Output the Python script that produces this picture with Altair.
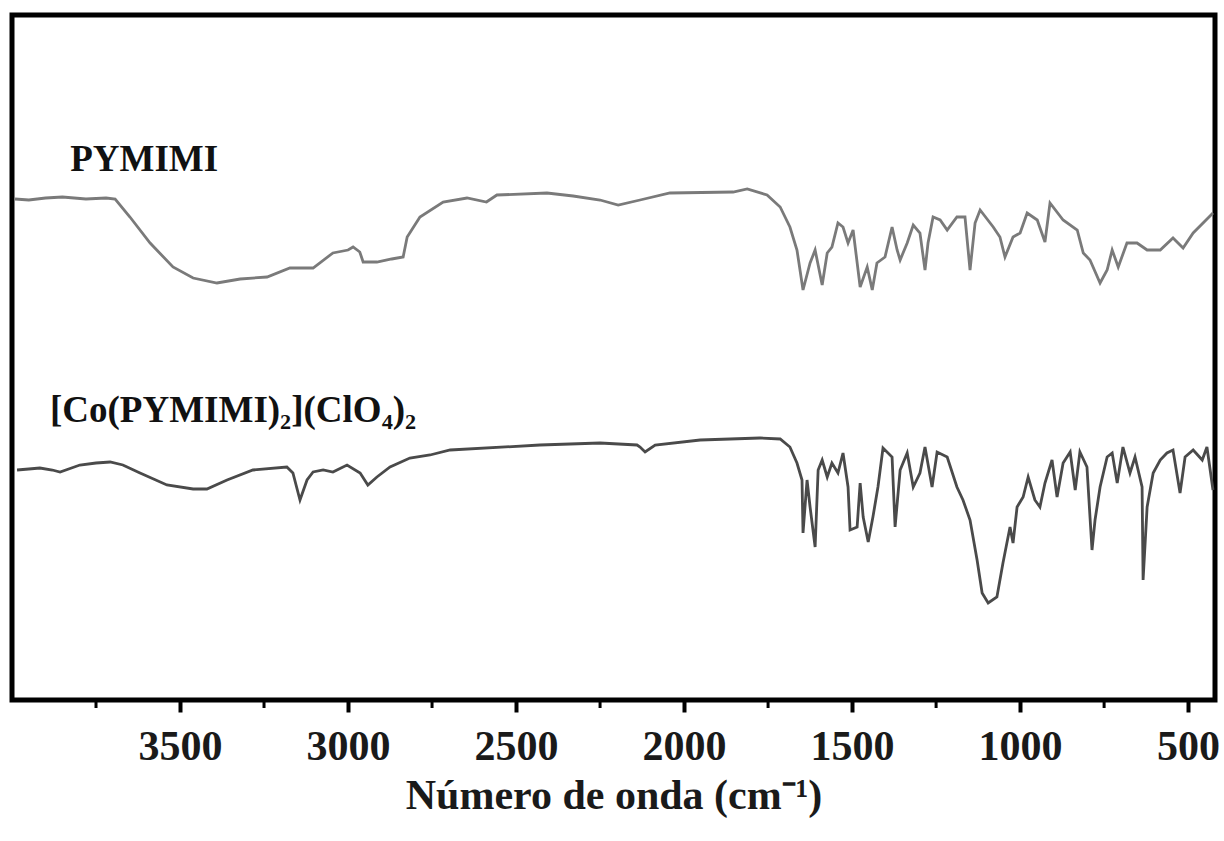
import altair as alt
import pandas as pd

# PYMIMI spectrum (wavenumber cm-1, transmittance a.u.)
top_wn = [3991, 3950, 3900, 3850, 3780, 3720, 3693, 3649, 3589, 3521, 3461, 3390, 3321, 3241, 3173, 3104,
          3045, 3000, 2985, 2965, 2955, 2914, 2870, 2836, 2824, 2786, 2717, 2646, 2588, 2557, 2408, 2330,
          2250, 2196, 2131, 2042, 1854, 1812, 1753, 1714, 1685, 1664, 1646, 1625, 1610, 1589, 1574, 1560,
          1542, 1527, 1512, 1497, 1476, 1455, 1440, 1426, 1402, 1381, 1366, 1357, 1336, 1318, 1298, 1283,
          1274, 1259, 1238, 1217, 1188, 1164, 1149, 1134, 1119, 1080, 1060, 1045, 1021, 1000, 979, 949,
          926, 911, 872, 830, 812, 792, 762, 741, 726, 708, 682, 652, 622, 583, 545, 515, 485, 426]
top_t = [501, 500, 502, 503, 501, 502, 501, 483, 457, 433, 422, 417, 421, 423, 432, 432,
         447, 450, 453, 448, 438, 438, 441, 443, 463, 483, 498, 502, 498, 505, 507, 504,
         500, 495, 500, 507, 508, 511, 505, 493, 473, 450, 410, 437, 450, 415, 447, 453,
         477, 473, 457, 470, 413, 433, 410, 437, 443, 473, 450, 440, 457, 475, 467, 430,
         457, 483, 480, 470, 483, 483, 430, 477, 490, 473, 463, 443, 463, 467, 487, 480,
         458, 497, 480, 470, 447, 440, 417, 430, 450, 433, 457, 457, 450, 450, 462, 452, 467, 487]

# [Co(PYMIMI)2](ClO4)2 spectrum
bot_wn = [3985, 3950, 3917, 3880, 3857, 3798, 3750, 3708, 3670, 3619, 3539, 3461, 3420, 3360, 3283, 3182,
          3164, 3143, 3122, 3104, 3074, 3045, 3003, 2964, 2941, 2914, 2875, 2816, 2756, 2696, 2429, 2250,
          2140, 2131, 2116, 2086, 1952, 1774, 1714, 1685, 1664, 1649, 1646, 1634, 1625, 1610, 1601, 1589,
          1574, 1560, 1542, 1527, 1512, 1506, 1485, 1476, 1467, 1452, 1438, 1423, 1408, 1381, 1372, 1357,
          1336, 1318, 1298, 1283, 1262, 1247, 1217, 1188, 1170, 1149, 1128, 1113, 1095, 1069, 1051, 1030,
          1021, 1009, 991, 976, 956, 941, 926, 905, 890, 872, 851, 836, 822, 801, 792, 786,
          777, 762, 741, 726, 711, 694, 673, 658, 637, 634, 622, 604, 583, 563, 545, 524,
          509, 485, 458, 444, 426]
bot_t = [230, 231, 232, 230, 228, 235, 237, 238, 235, 227, 215, 211, 211, 220, 230, 233,
         227, 200, 220, 228, 230, 228, 235, 227, 215, 223, 233, 242, 245, 250, 255, 257,
         255, 253, 248, 255, 260, 262, 261, 253, 237, 220, 167, 220, 193, 153, 230, 240,
         223, 237, 227, 247, 213, 170, 173, 217, 183, 158, 183, 213, 252, 243, 173, 230,
         247, 213, 227, 253, 213, 248, 243, 213, 200, 180, 140, 107, 97, 103, 137, 173,
         157, 193, 203, 223, 200, 193, 217, 240, 203, 237, 248, 210, 248, 233, 183, 150,
         180, 213, 243, 247, 217, 253, 227, 243, 213, 120, 193, 227, 240, 247, 250, 207,
         243, 250, 240, 253, 210]

major_ticks = [3500, 3000, 2500, 2000, 1500, 1000, 500]
minor_ticks = [3750, 3250, 2750, 2250, 1750, 1250, 750]

labels = ["PYMIMI", "[Co(PYMIMI)₂](ClO₄)₂"]
label_wn = [3827, 3887]
label_t = [540, 289]

W, H = 1203, 685
xscale = alt.Scale(domain=[4000, 420], nice=False, zero=False)
yscale = alt.Scale(domain=[0, 685], nice=False, zero=False)

df_top = pd.DataFrame({"wn": top_wn, "t": top_t})
df_bot = pd.DataFrame({"wn": bot_wn, "t": bot_t})
df_lab = pd.DataFrame({"label": labels, "wn": label_wn, "t": label_t})
df_minor = pd.DataFrame({"wn": minor_ticks})

xaxis = alt.Axis(values=major_ticks, title="Número de onda (cm⁻¹)", grid=False, domain=False,
                 tickColor="black", tickWidth=4, tickSize=12, labelPadding=14,
                 labelFont="Liberation Serif", labelFontSize=42, labelFontWeight="bold",
                 labelColor="#1a1a1a", labelFlush=False, format="d",
                 titleFont="Liberation Serif", titleFontSize=42, titleFontWeight="bold",
                 titleColor="#1a1a1a", titlePadding=8)

top_line = alt.Chart(df_top).mark_line(color="#7a7a7a", strokeWidth=2.8).encode(
    x=alt.X("wn:Q", scale=xscale, axis=xaxis),
    y=alt.Y("t:Q", scale=yscale, axis=None),
)
bot_line = alt.Chart(df_bot).mark_line(color="#4a4a4a", strokeWidth=2.8).encode(
    x=alt.X("wn:Q", scale=xscale),
    y=alt.Y("t:Q", scale=yscale, axis=None),
)
text = alt.Chart(df_lab).mark_text(align="left", baseline="middle", font="Liberation Serif",
                                   fontWeight="bold", fontSize=37, color="#111111").encode(
    x=alt.X("wn:Q", scale=xscale),
    y=alt.Y("t:Q", scale=yscale, axis=None),
    text="label:N",
)
minor = alt.Chart(df_minor).mark_rule(color="black", strokeWidth=3).encode(
    x=alt.X("wn:Q", scale=xscale),
    y=alt.value(H),
    y2=alt.value(H + 8),
)

chart = alt.layer(top_line, bot_line, text, minor).properties(
    width=W, height=H,
    autosize=alt.AutoSizeParams(type="none"),
    padding={"left": 12, "top": 15, "right": 9, "bottom": 141},
    background="white",
).configure_view(stroke="black", strokeWidth=5)

chart.save("out.html", embed_options={"renderer": "svg", "actions": False})
